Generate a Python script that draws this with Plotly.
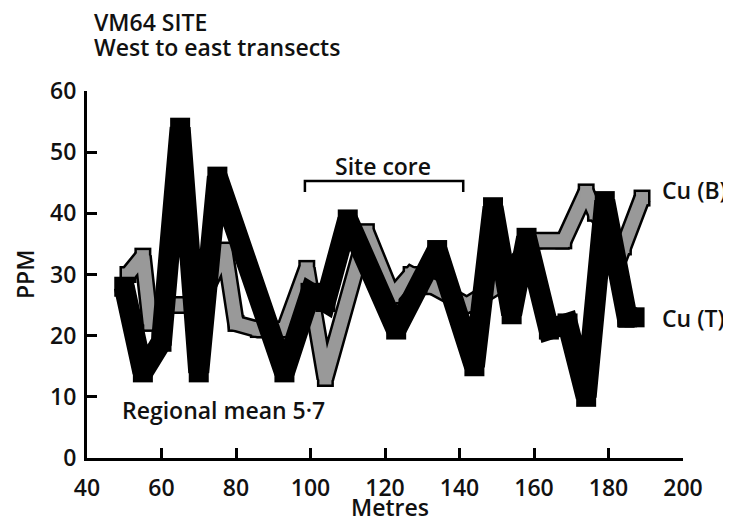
import plotly.graph_objects as go

# ---- data ----
metres_T = [50, 55, 60, 65, 70, 75, 93, 100, 104, 110, 123, 134, 144, 149, 154, 158, 164, 169, 174, 179, 185, 187]
cu_T = [28, 14, 19, 54, 14, 46, 14, 27, 25.5, 39, 21, 34, 15, 41, 23.5, 36, 21, 22, 10, 42, 23, 23]

metres_B = [51, 55, 57, 62, 70, 77, 80, 86, 93, 99, 104, 115, 122, 127, 133, 142, 150, 160, 168, 174, 176.5, 184, 189]
cu_B = [30, 33, 22, 25, 25, 34, 22, 21, 21, 31, 13, 37, 26.5, 30, 28, 25, 28, 35.5, 35.5, 43.5, 40, 34.5, 42.5]

x_ticks = [40, 60, 80, 100, 120, 140, 160, 180, 200]
y_ticks = [0, 10, 20, 30, 40, 50, 60]

site_core = [98.5, 141]
site_core_level = 45.3
site_core_drop = 43.5

FONT = "Open Sans"
FS = 23
WEIGHT = 600
TXT = "#111"

fig = go.Figure()
# Cu (B): stippled grey band with black outline
fig.add_trace(go.Scatter(x=metres_B, y=cu_B, mode="lines+markers",
                         line=dict(color="black", width=18),
                         marker=dict(symbol="square", size=17, color="black", line=dict(width=0)),
                         hoverinfo="skip"))
fig.add_trace(go.Scatter(x=metres_B, y=cu_B, mode="lines+markers",
                         line=dict(color="#999999", width=13),
                         marker=dict(symbol="square", size=12, color="#999999", line=dict(width=0)),
                         hoverinfo="skip"))
# Cu (T): solid black band
fig.add_trace(go.Scatter(x=metres_T, y=cu_T, mode="lines+markers",
                         line=dict(color="black", width=21),
                         marker=dict(symbol="square", size=20, color="black", line=dict(width=0)),
                         hoverinfo="skip"))

# Site core bracket
fig.add_shape(type="path", xref="x", yref="y",
              path=f"M {site_core[0]},{site_core_drop} L {site_core[0]},{site_core_level} "
                   f"L {site_core[1]},{site_core_level} L {site_core[1]},{site_core_drop}",
              line=dict(color="black", width=2.5))

ann = dict(showarrow=False, font=dict(family=FONT, size=FS, color=TXT, weight=WEIGHT))
fig.add_annotation(x=119.5, y=47.7, xref="x", yref="y", text="Site core", xanchor="center", yanchor="middle", **ann)
fig.add_annotation(x=193.8, y=43.8, xref="x", yref="y", text="Cu (B)", xanchor="left", yanchor="middle", **ann)
fig.add_annotation(x=193.8, y=22.9, xref="x", yref="y", text="Cu (T)", xanchor="left", yanchor="middle", **ann)
fig.add_annotation(x=48.9, y=7.8, xref="x", yref="y", text="Regional mean 5·7", xanchor="left", yanchor="middle", **ann)

fig.add_annotation(x=5/596, y=1.188, xref="paper", yref="paper", text="VM64 SITE", xanchor="left", yanchor="middle", **ann)
fig.add_annotation(x=5/596, y=1.1199, xref="paper", yref="paper", text="West to east transects", xanchor="left", yanchor="middle", **ann)
fig.add_annotation(x=-0.104, y=0.4986, xref="paper", yref="paper", text="PPM", textangle=-90, xanchor="center", yanchor="middle", **ann)
fig.add_annotation(x=0.508, y=-0.1335, xref="paper", yref="paper", text="Metres", xanchor="center", yanchor="middle", **ann)

axis_common = dict(showgrid=False, zeroline=False, showline=True, linewidth=3, linecolor="black",
                   ticks="inside", ticklen=10, tickwidth=2.5, tickcolor="black",
                   tickfont=dict(family=FONT, size=FS, color=TXT, weight=WEIGHT))
fig.update_xaxes(range=[40, 200], tickvals=x_ticks, ticktext=[str(v) for v in x_ticks],
                 ticklabelstandoff=7, **axis_common)
fig.update_yaxes(range=[0, 60], tickvals=y_ticks, ticktext=[str(v) for v in y_ticks],
                 ticklabelstandoff=3, **axis_common)

# page body has an 8px margin: shrink the figure so the plot area sits where the reference's does
fig.update_layout(width=723, height=515, margin=dict(l=79, r=48, t=83, b=65),
                  plot_bgcolor="white", paper_bgcolor="white", showlegend=False,
                  font=dict(family=FONT, size=FS, color=TXT))

fig.write_html("out.html")
